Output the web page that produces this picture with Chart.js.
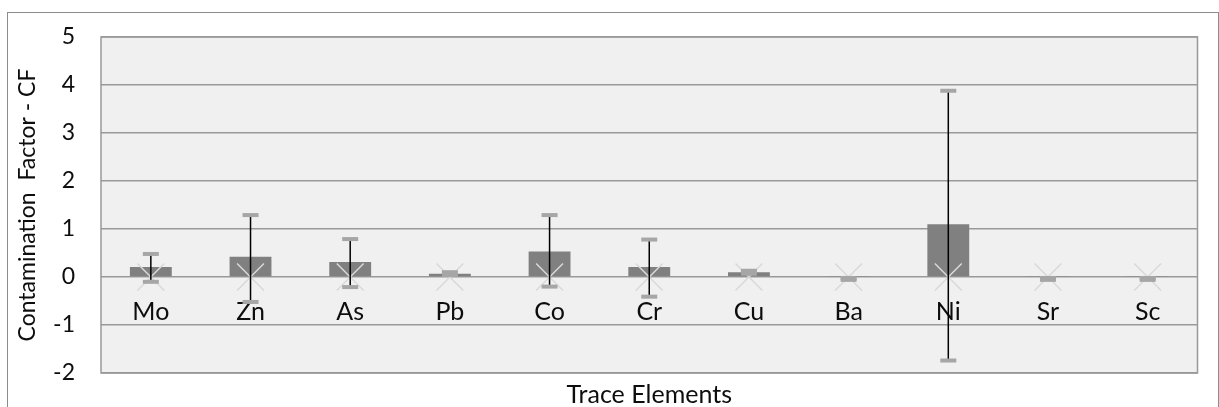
<!DOCTYPE html>
<html>
<head>
<meta charset="utf-8">
<script src="https://cdn.jsdelivr.net/npm/chart.js@4.4.0/dist/chart.umd.min.js"></script>
<style>
  body { margin: 0; background: #fff; overflow: hidden; }
  #frame { position: absolute; left: 7px; top: 12px; width: 1210px; height: 420px;
           border: 1px solid #8c8c8c; }
  #wrap { position: absolute; left: 0; top: 0; width: 1210px; height: 394px; }
</style>
</head>
<body>
<div id="frame"><div id="wrap"><canvas id="cf"></canvas></div></div>
<script>
// trace elements and their mean contamination factor
var elements = ['Mo', 'Zn', 'As', 'Pb', 'Co', 'Cr', 'Cu', 'Ba', 'Ni', 'Sr', 'Sc'];
var cfMean   = [0.21, 0.42, 0.31, 0.07, 0.53, 0.21, 0.10, 0.01, 1.10, 0.01, 0.01];
// error bar ends (upper / lower)
var cfHigh   = [0.48, 1.29, 0.79, 0.10, 1.29, 0.78, 0.13, -0.02, 3.88, -0.02, -0.02];
var cfLow    = [-0.10, -0.52, -0.21, 0.04, -0.20, -0.41, 0.07, -0.06, -1.74, -0.06, -0.06];
// second series drawn as X markers
var markers  = [0, 0, 0, 0, 0, 0, 0, 0, 0, 0, 0];

var txt = '#0d0d0d';
var fontFam = 'Lato, "Open Sans", sans-serif';

var plotBg = {
    id: 'plotBg',
    beforeDraw: function(chart) {
        var a = chart.chartArea, ctx = chart.ctx;
        ctx.save();
        ctx.fillStyle = '#f0f0f0';
        ctx.fillRect(a.left, a.top, a.right - a.left, a.bottom - a.top);
        ctx.restore();
    },
    afterDraw: function(chart) {
        var a = chart.chartArea, ctx = chart.ctx;
        ctx.save();
        ctx.strokeStyle = '#999';
        ctx.lineWidth = 1.5;
        ctx.strokeRect(a.left, a.top, a.right - a.left, a.bottom - a.top);
        ctx.restore();
    }
};

var errorBars = {
    id: 'errorBars',
    afterDatasetsDraw: function(chart) {
        var ctx = chart.ctx, xs = chart.scales.x, ys = chart.scales.y;
        ctx.save();
        for (var i = 0; i < elements.length; i++) {
            var x = xs.getPixelForValue(i);
            var yh = ys.getPixelForValue(cfHigh[i]);
            var yl = ys.getPixelForValue(cfLow[i]);
            ctx.strokeStyle = '#000';
            ctx.lineWidth = 1.5;
            ctx.beginPath();
            ctx.moveTo(x, yh);
            ctx.lineTo(x, yl);
            ctx.stroke();
            ctx.fillStyle = '#a6a6a6';
            ctx.fillRect(x - 8, yh - 2, 16, 4);
            ctx.fillRect(x - 8, yl - 2, 16, 4);
        }
        ctx.restore();
    }
};

new Chart(document.getElementById('cf'), {
    type: 'bar',
    data: {
        labels: elements,
        datasets: [{
            type: 'line',
            label: 'marker',
            data: markers,
            showLine: false,
            pointStyle: 'crossRot',
            pointRadius: 19,
            pointBorderColor: '#d9d9d9',
            pointBorderWidth: 1.5,
            order: 0
        }, {
            label: 'CF',
            data: cfMean,
            backgroundColor: '#808080',
            borderWidth: 0,
            barPercentage: 0.42,
            categoryPercentage: 1,
            order: 1
        }]
    },
    plugins: [plotBg, errorBars],
    options: {
        responsive: true,
        maintainAspectRatio: false,
        animation: false,
        layout: { padding: { left: 0, right: 6, top: 24, bottom: 0 } },
        plugins: {
            legend: { display: false },
            tooltip: { enabled: false },
            title: {
                display: true,
                position: 'bottom',
                fullSize: false,
                text: 'Trace Elements',
                color: txt,
                font: { family: fontFam, size: 25, weight: 'normal', lineHeight: 1 },
                padding: { top: 9, bottom: 0 }
            }
        },
        scales: {
            x: {
                position: { y: 0 },
                afterFit: function(scale) { scale.height = 0; },
                grid: { display: false, drawTicks: false },
                border: { display: false },
                ticks: {
                    color: txt,
                    padding: 20,
                    font: { family: fontFam, size: 25 }
                }
            },
            y: {
                min: -2,
                max: 5,
                afterFit: function(scale) { scale.width = 93; },
                ticks: {
                    stepSize: 1,
                    color: txt,
                    padding: 2,
                    font: { family: fontFam, size: 23 }
                },
                grid: {
                    color: '#999',
                    lineWidth: 1.5,
                    drawTicks: true,
                    tickLength: 24,
                    tickColor: 'rgba(0,0,0,0)'
                },
                border: { display: false },
                title: {
                    display: true,
                    text: 'Contamination  Factor - CF',
                    color: txt,
                    font: { family: fontFam, size: 23, weight: 'normal' },
                    padding: { top: 6, bottom: 0 }
                }
            }
        }
    }
});
</script>
</body>
</html>
